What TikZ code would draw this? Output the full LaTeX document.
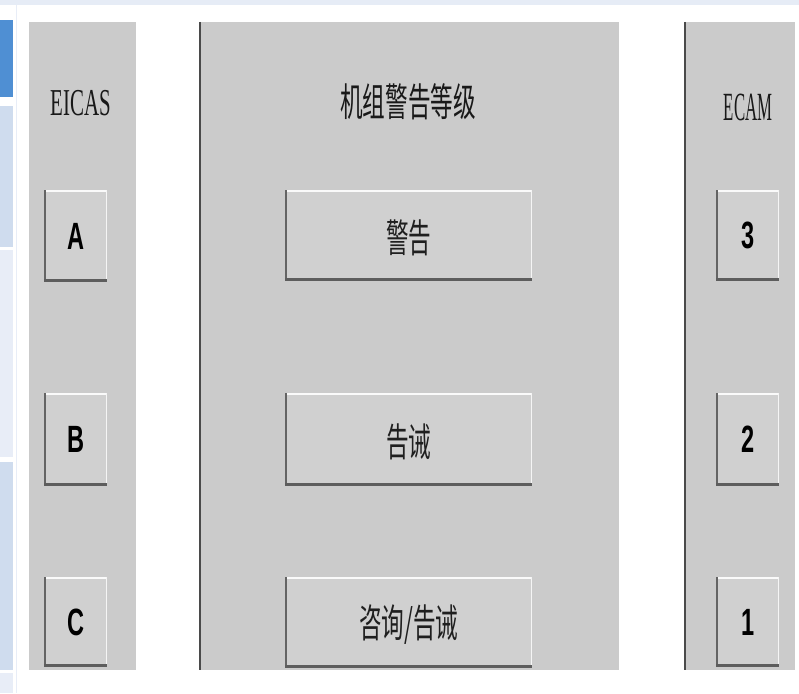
\documentclass[tikz,border=0pt]{standalone}
\usepackage{fontspec}
\setmainfont{Liberation Serif}
\newfontfamily\cjk{Noto Sans CJK SC}
\newfontfamily\boldsans{Liberation Sans}
\definecolor{panel}{HTML}{CBCBCB}
\definecolor{boxfill}{HTML}{D0D0D0}
\definecolor{darkedge}{HTML}{4A4A4A}
\definecolor{navyblue}{HTML}{4F8FD3}
\definecolor{paleA}{HTML}{CFDCEE}
\definecolor{paleB}{HTML}{E8EDF7}
\definecolor{topstrip}{HTML}{E6ECF6}
\tikzset{
  panelbox/.style={fill=panel, draw=none},
  bevel/.style={fill=boxfill, draw=none, inner sep=0pt, anchor=north west},
  headtxt/.style={inner sep=0pt, text=black!90},
  lettertxt/.style={inner sep=0pt, font=\boldsans\bfseries\fontsize{38}{38}\selectfont},
  cjktxt/.style={inner sep=0pt, font=\cjk\fontsize{39}{39}\selectfont, text=black!88},
}
\begin{document}
\begin{tikzpicture}[x=1pt,y=-1pt]
\useasboundingbox (0,0) rectangle (799,693);
\fill[white] (0,0) rectangle (799,693);
% slide remnants
\fill[topstrip] (0,0) rectangle (799,5);
\fill[navyblue] (0,20) rectangle (13,97);
\fill[paleA] (0,106) rectangle (13,247);
\fill[paleB] (0,250) rectangle (13,457);
\fill[paleA] (0,462) rectangle (13,670);
\fill[paleB] (0,673) rectangle (13,693);
\draw[paleB, line width=1pt] (16.5,5) -- (16.5,693);
% panels
\fill[panelbox] (29,22) rectangle (136,670);
\fill[panelbox] (199,22) rectangle (619,670);
\fill[panelbox] (684,22) rectangle (795,670);
\draw[darkedge, line width=2pt] (200,22) -- (200,670);
\draw[darkedge, line width=2pt] (685,22) -- (685,670);
% headings
\node[headtxt] (eicas) at (81,103) {\scalebox{0.55}[1]{\fontsize{38}{38}\selectfont EICAS}};
\node[headtxt] (title) at (408,102) {\scalebox{0.58}[1]{\cjk\fontsize{39}{39}\selectfont 机组警告等级}};
\node[headtxt] (ecam) at (748,107) {\scalebox{0.42}[1]{\fontsize{40}{40}\selectfont ECAM}};
% boxes
\node[bevel, minimum width=63pt, minimum height=92pt] (bA) at (44,190) {};
\node[bevel, minimum width=63pt, minimum height=93pt] (bB) at (44,393) {};
\node[bevel, minimum width=63pt, minimum height=90pt] (bC) at (44,577) {};
\node[bevel, minimum width=247pt, minimum height=91pt] (m1) at (285,190) {};
\node[bevel, minimum width=247pt, minimum height=93pt] (m2) at (285,393) {};
\node[bevel, minimum width=247pt, minimum height=91pt] (m3) at (285,577) {};
\node[bevel, minimum width=63pt, minimum height=91pt] (r3) at (716,190) {};
\node[bevel, minimum width=63pt, minimum height=93pt] (r2) at (716,393) {};
\node[bevel, minimum width=63pt, minimum height=90pt] (r1) at (716,577) {};
\foreach \n in {bA,bB,bC,m1,m2,m3,r3,r2,r1}{
  \draw[white!90!panel, line width=2pt] ([yshift=-1pt]\n.north west) -- ([yshift=-1pt]\n.north east);
  \draw[white!80!panel, line width=1.5pt] ([xshift=-0.75pt]\n.north east) -- ([xshift=-0.75pt]\n.south east);
  \draw[darkedge!80!panel, line width=1.5pt] ([xshift=0.75pt]\n.north west) -- ([xshift=0.75pt]\n.south west);
  \draw[darkedge!85!panel, line width=3pt] ([yshift=1.5pt]\n.south west) -- ([yshift=1.5pt]\n.south east);
}
% labels
\node[lettertxt] (tA) at (bA.center) {\scalebox{0.62}[1]{A}};
\node[lettertxt] (tB) at (bB.center) {\scalebox{0.62}[1]{B}};
\node[lettertxt] (tC) at (bC.center) {\scalebox{0.62}[1]{C}};
\node[lettertxt] (t3) at (r3.center) {\scalebox{0.62}[1]{3}};
\node[lettertxt] (t2) at (r2.center) {\scalebox{0.62}[1]{2}};
\node[lettertxt] (t1) at (r1.center) {\scalebox{0.62}[1]{1}};
\node[cjktxt] (w1) at ([yshift=-2pt]m1.center) {\scalebox{0.58}[1]{警告}};
\node[cjktxt] (w2) at ([yshift=-2pt]m2.center) {\scalebox{0.58}[1]{告诫}};
\node[cjktxt] (w3) at ([yshift=-2pt]m3.center) {\scalebox{0.58}[1]{咨询/告诫}};
\end{tikzpicture}
\end{document}
